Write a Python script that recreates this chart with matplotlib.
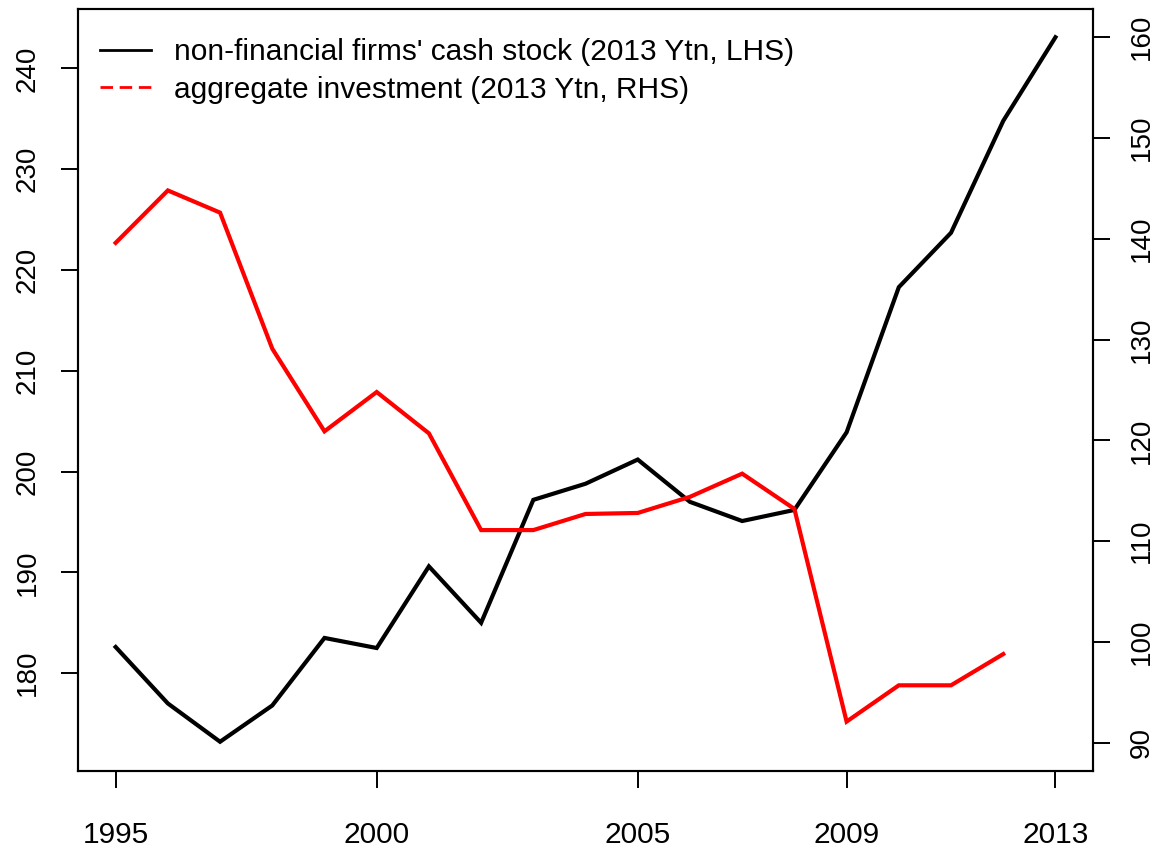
import matplotlib
matplotlib.use("Agg")
import matplotlib.pyplot as plt
from matplotlib.lines import Line2D

# data
years = list(range(1995, 2014))
cash_stock = [182.6, 177.0, 173.2, 176.8, 183.5, 182.5, 190.6, 185.0, 197.2, 198.8,
              201.2, 197.0, 195.1, 196.2, 203.9, 218.3, 223.7, 234.8, 243.1]
inv_years = list(range(1995, 2013))
investment = [139.6, 144.8, 142.6, 129.1, 120.9, 124.8, 120.7, 111.1, 111.1, 112.7,
              112.8, 114.4, 116.7, 113.2, 92.1, 95.7, 95.7, 98.8]

x_ticks = [1995, 2000, 2005, 2009, 2013]
lhs_ticks = [180, 190, 200, 210, 220, 230, 240]
rhs_ticks = [90, 100, 110, 120, 130, 140, 150, 160]
labels = ["non-financial firms' cash stock (2013 Ytn, LHS)",
          "aggregate investment (2013 Ytn, RHS)"]

font = ['Liberation Sans', 'DejaVu Sans']

fig = plt.figure(figsize=(11.58, 8.52), dpi=100)
ax = fig.add_axes([0.0674, 0.0951, 0.8765, 0.8943])
ax2 = ax.twinx()

ax.plot(years, cash_stock, color='black', lw=3.0, solid_joinstyle='miter')
ax2.plot(inv_years, investment, color='red', lw=3.0, solid_joinstyle='miter')

# R style 4% padding
ax.set_xlim(1994.28, 2013.72)
ax.set_ylim(170.3, 245.9)
ax2.set_ylim(87.2, 162.8)

ax.set_xticks(x_ticks)
ax.set_xticklabels([str(t) for t in x_ticks], family=font, fontsize=21.5)
ax.set_yticks(lhs_ticks)
ax.set_yticklabels([str(t) for t in lhs_ticks], family=font, fontsize=20,
                   rotation=90, va='center')
ax2.set_yticks(rhs_ticks)
ax2.set_yticklabels([str(t) for t in rhs_ticks], family=font, fontsize=20,
                    rotation=90, va='center')

ax.tick_params(axis='x', length=12, width=1.4, pad=24)
ax.tick_params(axis='y', length=12, width=1.4, pad=15)
ax2.tick_params(axis='y', length=12, width=1.4, pad=14)

for a in (ax, ax2):
    for sp in a.spines.values():
        sp.set_linewidth(1.5)

handles = [Line2D([], [], color='black', lw=2),
           Line2D([], [], color='red', lw=2, dashes=(4.5, 2.4))]
leg = ax.legend(handles, labels, loc='upper left', bbox_to_anchor=(0.022, 0.962),
                frameon=False, handlelength=1.7, handletextpad=0.75,
                labelspacing=0.33, borderaxespad=0, borderpad=0,
                prop={'family': font, 'size': 21.5})

fig.savefig('out.png', dpi=100)
